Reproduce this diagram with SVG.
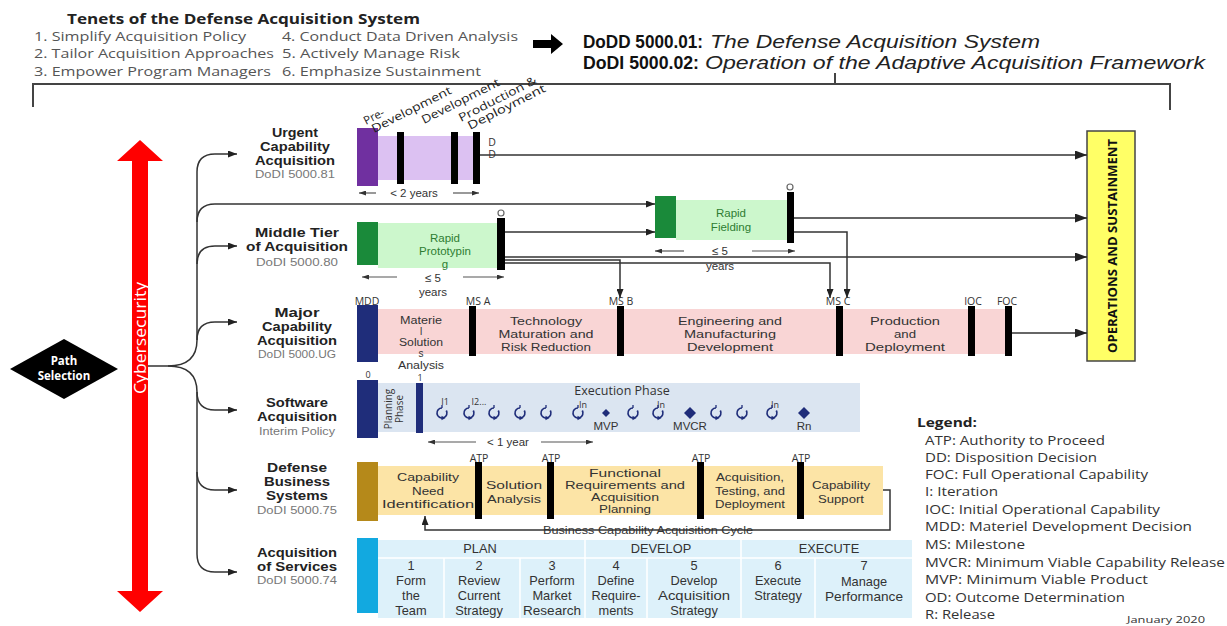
<svg xmlns="http://www.w3.org/2000/svg" width="1227" height="626" viewBox="0 0 1227 626">
<defs>
<style>
text{font-family:"Open Sans","Liberation Sans",sans-serif;}
.ten{font-size:13px;fill:#555;}
.ttl{font-size:15px;font-weight:bold;fill:#222;}
.dodb{font-family:"Liberation Sans",Arial,sans-serif;font-size:18px;font-weight:bold;fill:#111;}
.dodi{font-family:"Liberation Sans",Arial,sans-serif;font-size:18px;font-style:italic;fill:#222;}
.lb{font-family:"Liberation Sans",Arial,sans-serif;font-size:12px;font-weight:bold;fill:#222;text-anchor:middle;}
.sub{font-family:"Liberation Sans",Arial,sans-serif;font-size:10px;fill:#777;text-anchor:middle;}
.ph{font-family:"Liberation Sans",Arial,sans-serif;font-size:11.5px;fill:#333;text-anchor:middle;}
.php{font-family:"Liberation Sans",Arial,sans-serif;font-size:10px;fill:#333;text-anchor:middle;}
.ph4{font-family:"Liberation Sans",Arial,sans-serif;font-size:10.5px;fill:#333;text-anchor:middle;}
.gph{font-family:"Liberation Sans",Arial,sans-serif;font-size:11.5px;fill:#2e7d32;text-anchor:middle;}
.ms{font-size:10.5px;fill:#333;text-anchor:middle;}
.sm{font-size:9px;fill:#333;text-anchor:middle;}
.rot{font-size:11.5px;fill:#222;}
.lg{font-size:12.5px;fill:#333;}
.aos{font-family:"Liberation Sans",Arial,sans-serif;font-size:12.8px;fill:#333;text-anchor:middle;}
.ln{fill:none;stroke:#333;stroke-width:1.5;}
.gl{fill:none;stroke:#555;stroke-width:1.2;}
.bar{fill:#000;}
.cell{stroke:#fff;stroke-width:1.5;}
</style>
<marker id="a" markerWidth="9" markerHeight="7" refX="9" refY="3.5" orient="auto" markerUnits="userSpaceOnUse"><path d="M0,0L9,3.5L0,7z" fill="#222"/></marker>
<marker id="aL" markerWidth="12" markerHeight="9" refX="12" refY="4.5" orient="auto" markerUnits="userSpaceOnUse"><path d="M0,0L12,4.5L0,9z" fill="#222"/></marker>
<marker id="s" markerWidth="7" markerHeight="5" refX="7" refY="2.5" orient="auto" markerUnits="userSpaceOnUse"><path d="M0,0L7,2.5L0,5z" fill="#333"/></marker>
<g id="lp"><path d="M0,-5 A5,5 0 1 0 4.3,-2.5" fill="none" stroke="#1f2d7a" stroke-width="1.7"/><path d="M0,-5 V-8" stroke="#1f2d7a" stroke-width="1.3"/><path d="M-0.5,2.8 L3.5,5 L-0.5,7.2z" fill="#1f2d7a"/></g>
</defs>
<rect width="1227" height="626" fill="#fff"/>

<g id="header">
<text x="67" y="24" class="ttl" textLength="353" lengthAdjust="spacingAndGlyphs">Tenets of the Defense Acquisition System</text>
<text x="34" y="41" class="ten" textLength="212" lengthAdjust="spacingAndGlyphs">1. Simplify Acquisition Policy</text>
<text x="34" y="58" class="ten" textLength="240" lengthAdjust="spacingAndGlyphs">2. Tailor Acquisition Approaches</text>
<text x="34" y="76" class="ten" textLength="237" lengthAdjust="spacingAndGlyphs">3. Empower Program Managers</text>
<text x="282" y="41" class="ten" textLength="236" lengthAdjust="spacingAndGlyphs">4. Conduct Data Driven Analysis</text>
<text x="282" y="58" class="ten" textLength="178" lengthAdjust="spacingAndGlyphs">5. Actively Manage Risk</text>
<text x="282" y="76" class="ten" textLength="199" lengthAdjust="spacingAndGlyphs">6. Emphasize Sustainment</text>
<polygon points="533,40 551,40 551,34 563,44 551,54 551,48 533,48" fill="#000"/>
<text x="583" y="48" class="dodb" textLength="120" lengthAdjust="spacingAndGlyphs">DoDD 5000.01:</text>
<text x="710" y="48" class="dodi" textLength="330" lengthAdjust="spacingAndGlyphs">The Defense Acquisition System</text>
<text x="583" y="69" class="dodb" textLength="116" lengthAdjust="spacingAndGlyphs">DoDI 5000.02:</text>
<text x="705" y="69" class="dodi" textLength="500" lengthAdjust="spacingAndGlyphs">Operation of the Adaptive Acquisition Framework</text>
<path d="M835,73 V84 M33,107 V84 H1170 V110" fill="none" stroke="#444" stroke-width="2"/>
</g>

<g id="path-selection">
<polygon points="10,369 64,339 118,369 64,399" fill="#000"/>
<text x="64" y="365" text-anchor="middle" font-size="11.5" font-weight="bold" fill="#fff">Path</text>
<text x="64" y="380" text-anchor="middle" font-size="11.5" font-weight="bold" fill="#fff">Selection</text>
</g>

<g id="cybersecurity">
<polygon points="140,140 163,161 148,161 148,591 163,591 140,612 117,591 132,591 132,161 117,161" fill="#f00"/>
<text transform="translate(146,338) rotate(-90)" text-anchor="middle" font-size="16" fill="#fff" textLength="112" lengthAdjust="spacingAndGlyphs">Cybersecurity</text>
</g>

<g id="urgent">
<text x="295" y="137" class="lb" textLength="46" lengthAdjust="spacingAndGlyphs">Urgent</text>
<text x="295" y="151" class="lb" textLength="70" lengthAdjust="spacingAndGlyphs">Capability</text>
<text x="295" y="165" class="lb" textLength="80" lengthAdjust="spacingAndGlyphs">Acquisition</text>
<text x="295" y="178" class="sub" textLength="80" lengthAdjust="spacingAndGlyphs">DoDI 5000.81</text>
<rect x="378" y="136" width="100" height="44" fill="#dcc1f2"/>
<rect x="357" y="128" width="21" height="58" fill="#7030a0"/>
<rect x="397" y="132" width="7" height="52" class="bar"/>
<rect x="451" y="132" width="7" height="52" class="bar"/>
<rect x="473" y="132" width="7" height="52" class="bar"/>
<text transform="translate(366,125) rotate(-27)" class="rot">Pre-</text>
<text transform="translate(374,133) rotate(-27)" class="rot" textLength="88" lengthAdjust="spacingAndGlyphs">Development</text>
<text transform="translate(424,124) rotate(-27)" class="rot" textLength="86" lengthAdjust="spacingAndGlyphs">Development</text>
<text transform="translate(461,122) rotate(-27)" class="rot" textLength="86" lengthAdjust="spacingAndGlyphs">Production &amp;</text>
<text transform="translate(470,130) rotate(-27)" class="rot" textLength="86" lengthAdjust="spacingAndGlyphs">Deployment</text>
<text x="492" y="146" font-size="10.5" fill="#333" text-anchor="middle" font-family="Liberation Sans, sans-serif">D</text>
<text x="492" y="158" font-size="10.5" fill="#333" text-anchor="middle" font-family="Liberation Sans, sans-serif">D</text>
<text x="414" y="197" class="ph">&lt; 2 years</text>
<path d="M376,193 H359" class="gl" marker-end="url(#s)"/>
<path d="M453,193 H479" class="gl" marker-end="url(#s)"/>
</g>

<g id="middle-tier">
<text x="297" y="237" class="lb" textLength="84" lengthAdjust="spacingAndGlyphs">Middle Tier</text>
<text x="297" y="251" class="lb" textLength="102" lengthAdjust="spacingAndGlyphs">of Acquisition</text>
<text x="297" y="266" class="sub" textLength="82" lengthAdjust="spacingAndGlyphs">DoDI 5000.80</text>
<rect x="378" y="223" width="119" height="45" fill="#ccf7cc"/>
<rect x="357" y="222" width="21" height="43" fill="#1a8a3a"/>
<text x="445" y="242" class="gph">Rapid</text>
<text x="445" y="255" class="gph">Prototypin</text>
<text x="445" y="268" class="gph">g</text>
<rect x="497" y="218" width="8" height="52" class="bar"/>
<circle cx="501" cy="213" r="3" fill="#fff" stroke="#666" stroke-width="1.2"/>
<text x="433" y="282" class="ph">≤ 5</text>
<text x="433" y="296" class="ph">years</text>
<path d="M397,277 H362" class="gl" marker-end="url(#s)"/>
<path d="M463,277 H504" class="gl" marker-end="url(#s)"/>
</g>

<g id="rapid-fielding">
<rect x="676" y="200" width="111" height="40" fill="#ccf7cc"/>
<rect x="655" y="196" width="21" height="42" fill="#1a8a3a"/>
<text x="731" y="217" class="gph">Rapid</text>
<text x="731" y="231" class="gph">Fielding</text>
<rect x="787" y="192" width="7" height="51" class="bar"/>
<circle cx="790" cy="187" r="3" fill="#fff" stroke="#666" stroke-width="1.2"/>
<text x="720" y="255" class="ph">≤ 5</text>
<text x="720" y="270" class="ph">years</text>
<path d="M684,251 H655" class="gl" marker-end="url(#s)"/>
<path d="M752,251 H795" class="gl" marker-end="url(#s)"/>
</g>

<g id="major">
<text x="297" y="317" class="lb" textLength="45" lengthAdjust="spacingAndGlyphs">Major</text>
<text x="297" y="331" class="lb" textLength="70" lengthAdjust="spacingAndGlyphs">Capability</text>
<text x="297" y="345" class="lb" textLength="80" lengthAdjust="spacingAndGlyphs">Acquisition</text>
<text x="297" y="358" class="sub" textLength="78" lengthAdjust="spacingAndGlyphs">DoDI 5000.UG</text>
<rect x="378" y="309" width="632" height="45" fill="#f9d5d5"/>
<rect x="357" y="305" width="21" height="57" fill="#1f2d7a"/>
<rect x="469" y="306" width="7" height="50" class="bar"/>
<rect x="617" y="306" width="7" height="50" class="bar"/>
<rect x="836" y="306" width="7" height="50" class="bar"/>
<rect x="968" y="306" width="7" height="50" class="bar"/>
<rect x="1005" y="306" width="7" height="50" class="bar"/>
<text x="367" y="305" class="ms">MDD</text>
<text x="478" y="305" class="ms">MS A</text>
<text x="621" y="305" class="ms">MS B</text>
<text x="838" y="305" class="ms">MS C</text>
<text x="973" y="305" class="ms">IOC</text>
<text x="1007" y="305" class="ms">FOC</text>
<text x="421" y="324" class="php" textLength="42" lengthAdjust="spacingAndGlyphs">Materie</text>
<text x="421" y="335" class="php">l</text>
<text x="421" y="346" class="php" textLength="44" lengthAdjust="spacingAndGlyphs">Solution</text>
<text x="421" y="357" class="php">s</text>
<text x="421" y="369" class="php" textLength="46" lengthAdjust="spacingAndGlyphs">Analysis</text>
<text x="546" y="325" class="ph" textLength="72" lengthAdjust="spacingAndGlyphs">Technology</text>
<text x="546" y="338" class="ph" textLength="95" lengthAdjust="spacingAndGlyphs">Maturation and</text>
<text x="546" y="351" class="ph" textLength="90" lengthAdjust="spacingAndGlyphs">Risk Reduction</text>
<text x="730" y="325" class="ph" textLength="104" lengthAdjust="spacingAndGlyphs">Engineering and</text>
<text x="730" y="338" class="ph" textLength="92" lengthAdjust="spacingAndGlyphs">Manufacturing</text>
<text x="730" y="351" class="ph" textLength="86" lengthAdjust="spacingAndGlyphs">Development</text>
<text x="905" y="325" class="ph" textLength="70" lengthAdjust="spacingAndGlyphs">Production</text>
<text x="905" y="338" class="ph" textLength="22" lengthAdjust="spacingAndGlyphs">and</text>
<text x="905" y="351" class="ph" textLength="80" lengthAdjust="spacingAndGlyphs">Deployment</text>
</g>

<g id="software">
<text x="297" y="407" class="lb" textLength="62" lengthAdjust="spacingAndGlyphs">Software</text>
<text x="297" y="421" class="lb" textLength="80" lengthAdjust="spacingAndGlyphs">Acquisition</text>
<text x="297" y="435" class="sub" textLength="76" lengthAdjust="spacingAndGlyphs">Interim Policy</text>
<text x="368" y="378" class="sm">0</text>
<text x="420" y="381" class="sm">1</text>
<rect x="378" y="383" width="482" height="49" fill="#dbe5f1"/>
<rect x="357" y="380" width="21" height="58" fill="#1f2d7a"/>
<rect x="416" y="383" width="7" height="50" fill="#1f2d7a"/>
<text transform="translate(392,409) rotate(-90)" text-anchor="middle" font-size="10" fill="#333">Planning</text>
<text transform="translate(403,409) rotate(-90)" text-anchor="middle" font-size="10" fill="#333">Phase</text>
<text x="622" y="395" text-anchor="middle" font-size="12.5" fill="#333">Execution Phase</text>
<text x="445" y="405" class="sm">I1</text>
<text x="479" y="405" class="sm">I2...</text>
<text x="583" y="408" class="sm">In</text>
<text x="661" y="408" class="sm">In</text>
<text x="775" y="408" class="sm">In</text>
<use href="#lp" x="442" y="413"/>
<use href="#lp" x="469" y="413"/>
<use href="#lp" x="494" y="413"/>
<use href="#lp" x="520" y="413"/>
<use href="#lp" x="546" y="413"/>
<use href="#lp" x="578" y="413"/>
<use href="#lp" x="633" y="413"/>
<use href="#lp" x="658" y="413"/>
<use href="#lp" x="716" y="413"/>
<use href="#lp" x="742" y="413"/>
<use href="#lp" x="772" y="413"/>
<polygon points="606,409 610,413 606,417 602,413" fill="#1f2d7a"/>
<polygon points="690,407 696,413 690,419 684,413" fill="#1f2d7a"/>
<polygon points="804,407 810,413 804,419 798,413" fill="#1f2d7a"/>
<text x="606" y="430" class="ph">MVP</text>
<text x="690" y="430" class="ph">MVCR</text>
<text x="804" y="430" class="ph">Rn</text>
<text x="508" y="446" class="ph">&lt; 1 year</text>
<path d="M476,442 H428" class="gl" marker-end="url(#s)"/>
<path d="M541,442 H593" class="gl" marker-end="url(#s)"/>
</g>

<g id="dbs">
<text x="297" y="472" class="lb" textLength="60" lengthAdjust="spacingAndGlyphs">Defense</text>
<text x="297" y="486" class="lb" textLength="66" lengthAdjust="spacingAndGlyphs">Business</text>
<text x="297" y="500" class="lb" textLength="62" lengthAdjust="spacingAndGlyphs">Systems</text>
<text x="297" y="514" class="sub" textLength="80" lengthAdjust="spacingAndGlyphs">DoDI 5000.75</text>
<rect x="378" y="466" width="505" height="49" fill="#fce4a6"/>
<rect x="357" y="462" width="21" height="59" fill="#b5891a"/>
<rect x="475" y="462" width="7" height="57" class="bar"/>
<rect x="547" y="462" width="7" height="57" class="bar"/>
<rect x="697" y="462" width="7" height="57" class="bar"/>
<rect x="797" y="462" width="7" height="57" class="bar"/>
<text x="479" y="462" class="ms">ATP</text>
<text x="551" y="462" class="ms">ATP</text>
<text x="701" y="462" class="ms">ATP</text>
<text x="801" y="462" class="ms">ATP</text>
<text x="428" y="481" class="ph" textLength="62" lengthAdjust="spacingAndGlyphs">Capability</text>
<text x="428" y="494.5" class="ph" textLength="32" lengthAdjust="spacingAndGlyphs">Need</text>
<text x="428" y="508" class="ph" textLength="92" lengthAdjust="spacingAndGlyphs">Identification</text>
<text x="514" y="489" class="ph" textLength="56" lengthAdjust="spacingAndGlyphs">Solution</text>
<text x="514" y="502.5" class="ph" textLength="54" lengthAdjust="spacingAndGlyphs">Analysis</text>
<text x="625" y="477" class="ph4" textLength="72" lengthAdjust="spacingAndGlyphs">Functional</text>
<text x="625" y="489" class="ph4" textLength="120" lengthAdjust="spacingAndGlyphs">Requirements and</text>
<text x="625" y="501" class="ph4" textLength="68" lengthAdjust="spacingAndGlyphs">Acquisition</text>
<text x="625" y="513" class="ph4" textLength="52" lengthAdjust="spacingAndGlyphs">Planning</text>
<text x="750" y="481" class="ph" textLength="68" lengthAdjust="spacingAndGlyphs">Acquisition,</text>
<text x="750" y="494.5" class="ph" textLength="70" lengthAdjust="spacingAndGlyphs">Testing, and</text>
<text x="750" y="508" class="ph" textLength="70" lengthAdjust="spacingAndGlyphs">Deployment</text>
<text x="841" y="489" class="ph" textLength="58" lengthAdjust="spacingAndGlyphs">Capability</text>
<text x="841" y="502.5" class="ph" textLength="46" lengthAdjust="spacingAndGlyphs">Support</text>
<text x="648" y="534" class="ph" textLength="210" lengthAdjust="spacingAndGlyphs">Business Capability Acquisition Cycle</text>
</g>

<g id="aos">
<text x="297" y="557" class="lb" textLength="80" lengthAdjust="spacingAndGlyphs">Acquisition</text>
<text x="297" y="571" class="lb" textLength="80" lengthAdjust="spacingAndGlyphs">of Services</text>
<text x="297" y="584" class="sub" textLength="80" lengthAdjust="spacingAndGlyphs">DoDI 5000.74</text>
<rect x="378" y="540" width="534" height="78" fill="#ddf1fa"/>
<path d="M378,558 H912 M585,540 V618 M741,540 V618 M444,558 V618 M520,558 V618 M647,558 V618 M815,558 V618" class="cell"/>
<rect x="357" y="538" width="21" height="75" fill="#12a9e0"/>
<text x="480" y="553" class="aos">PLAN</text>
<text x="661" y="553" class="aos">DEVELOP</text>
<text x="829" y="553" class="aos">EXECUTE</text>
<text x="411" y="570" class="aos">1</text>
<text x="411" y="585" class="aos">Form</text>
<text x="411" y="600" class="aos">the</text>
<text x="411" y="615" class="aos">Team</text>
<text x="479" y="570" class="aos">2</text>
<text x="479" y="585" class="aos">Review</text>
<text x="479" y="600" class="aos">Current</text>
<text x="479" y="615" class="aos">Strategy</text>
<text x="552" y="570" class="aos">3</text>
<text x="552" y="585" class="aos">Perform</text>
<text x="552" y="600" class="aos">Market</text>
<text x="552" y="615" class="aos" textLength="58" lengthAdjust="spacingAndGlyphs">Research</text>
<text x="616" y="570" class="aos">4</text>
<text x="616" y="585" class="aos">Define</text>
<text x="616" y="600" class="aos">Require-</text>
<text x="616" y="615" class="aos">ments</text>
<text x="694" y="570" class="aos">5</text>
<text x="694" y="585" class="aos">Develop</text>
<text x="694" y="600" class="aos" textLength="72" lengthAdjust="spacingAndGlyphs">Acquisition</text>
<text x="694" y="615" class="aos">Strategy</text>
<text x="778" y="570" class="aos">6</text>
<text x="778" y="585" class="aos">Execute</text>
<text x="778" y="600" class="aos">Strategy</text>
<text x="864" y="570" class="aos">7</text>
<text x="864" y="586" class="aos">Manage</text>
<text x="864" y="601" class="aos" textLength="78" lengthAdjust="spacingAndGlyphs">Performance</text>
</g>

<g id="ops">
<rect x="1087" y="131" width="48" height="230" fill="#ffff66" stroke="#444" stroke-width="1.5"/>
<text transform="translate(1117,246) rotate(-90)" text-anchor="middle" font-size="13" font-weight="bold" fill="#111" textLength="214" lengthAdjust="spacingAndGlyphs">OPERATIONS AND SUSTAINMENT</text>
</g>

<g id="legend">
<text x="917" y="427" font-size="12.5" font-weight="bold" fill="#222" textLength="60" lengthAdjust="spacingAndGlyphs">Legend:</text>
<text x="925" y="445" class="lg" textLength="180" lengthAdjust="spacingAndGlyphs">ATP: Authority to Proceed</text>
<text x="925" y="462" class="lg" textLength="172" lengthAdjust="spacingAndGlyphs">DD: Disposition Decision</text>
<text x="925" y="479" class="lg" textLength="223" lengthAdjust="spacingAndGlyphs">FOC: Full Operational Capability</text>
<text x="925" y="496" class="lg" textLength="73" lengthAdjust="spacingAndGlyphs">I: Iteration</text>
<text x="925" y="514" class="lg" textLength="235" lengthAdjust="spacingAndGlyphs">IOC: Initial Operational Capability</text>
<text x="925" y="531" class="lg" textLength="267" lengthAdjust="spacingAndGlyphs">MDD: Materiel Development Decision</text>
<text x="925" y="549" class="lg" textLength="100" lengthAdjust="spacingAndGlyphs">MS: Milestone</text>
<text x="925" y="567" class="lg" textLength="300" lengthAdjust="spacingAndGlyphs">MVCR: Minimum Viable Capability Release</text>
<text x="925" y="584" class="lg" textLength="223" lengthAdjust="spacingAndGlyphs">MVP: Minimum Viable Product</text>
<text x="925" y="602" class="lg" textLength="200" lengthAdjust="spacingAndGlyphs">OD: Outcome Determination</text>
<text x="925" y="619" class="lg" textLength="70" lengthAdjust="spacingAndGlyphs">R: Release</text>
<text x="1127" y="623" font-size="9" fill="#333" textLength="78" lengthAdjust="spacingAndGlyphs">January 2020</text>
</g>

<g id="connectors">
<path d="M148,366 H168 Q197,366 197,340 V172 Q197,154 215,154 H237" class="ln" marker-end="url(#a)"/>
<path d="M197,222 Q197,204 215,204 H655" class="ln" marker-end="url(#a)"/>
<path d="M197,264 Q197,246 215,246 H237" class="ln" marker-end="url(#a)"/>
<path d="M197,340 Q197,322 215,322 H237" class="ln" marker-end="url(#a)"/>
<path d="M168,366 Q197,366 197,392 V554 Q197,572 215,572 H237" class="ln" marker-end="url(#a)"/>
<path d="M197,392 Q197,410 215,410 H237" class="ln" marker-end="url(#a)"/>
<path d="M197,472 Q197,490 215,490 H237" class="ln" marker-end="url(#a)"/>
<path d="M480,155 H1087" class="ln" marker-end="url(#aL)"/>
<path d="M505,232 H655" class="ln" marker-end="url(#a)"/>
<path d="M505,257 H1087" class="ln" marker-end="url(#aL)"/>
<path d="M505,260 H620 V298" class="ln" marker-end="url(#a)"/>
<path d="M505,263 H830 V298" class="ln" marker-end="url(#a)"/>
<path d="M794,218 H1087" class="ln" marker-end="url(#aL)"/>
<path d="M794,232 H847 V298" class="ln" marker-end="url(#a)"/>
<path d="M1012,333 H1087" class="ln" marker-end="url(#aL)"/>
<path d="M883,490 H890 V530 H425 V516" class="ln" marker-end="url(#a)"/>
</g>
</svg>
